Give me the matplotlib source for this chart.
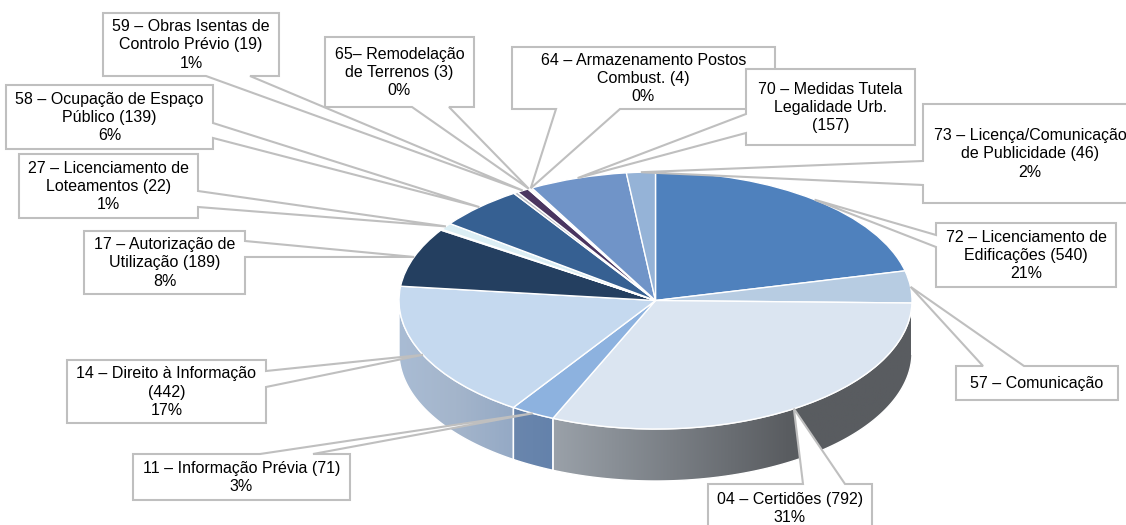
import numpy as np
import matplotlib
matplotlib.use('Agg')
import matplotlib.pyplot as plt
from matplotlib.colors import LinearSegmentedColormap
from matplotlib.patches import Polygon

# clockwise from 12 o'clock, two thin slices have no callout in the original
codes = ['72', '57', '04', '11', '14', '17', 'x1', '27', '58', 'x2', '59', '65', '64', '70', '73']
values = [540, 102, 792, 71, 442, 189, 3, 22, 139, 7, 19, 3, 4, 157, 46]
labels = ['72 – Licenciamento de\nEdificações (540)\n21%',
          '57 – Comunicação',
          '04 – Certidões (792)\n31%',
          '11 – Informação Prévia (71)\n3%',
          '14 – Direito à Informação\n(442)\n17%',
          '17 – Autorização de\nUtilização (189)\n8%',
          None,
          '27 – Licenciamento de\nLoteamentos (22)\n1%',
          '58 – Ocupação de Espaço\nPúblico (139)\n6%',
          None,
          '59 – Obras Isentas de\nControlo Prévio (19)\n1%',
          '65– Remodelação\nde Terrenos (3)\n0%',
          '64 – Armazenamento Postos\nCombust. (4)\n0%',
          '70 – Medidas Tutela\nLegalidade Urb.\n(157)',
          '73 – Licença/Comunicação\nde Publicidade (46)\n2%']
colors = ['#4f81bd', '#b7cce2', '#dbe5f1', '#8db2df', '#c5d9ef', '#243f60', '#4f6f9f', '#dbeef4',
          '#366092', '#b9bcc4', '#4a3560', '#f4ece6', '#f6f0ea', '#7094c8', '#95b3d7']

# pie ellipse in pixels
cx, cy, rx, ry = 655.5, 300.5, 256.5, 128.5
depth = 52

# side wall gradients, left to right on screen
walls = {'57': [(0, '#595c60'), (1, '#595c60')],
         '04': [(0, '#9aa1a9'), (0.66, '#595c60'), (1, '#595c60')],
         '11': [(0, '#6a86ad'), (1, '#6482ab')],
         '14': [(0, '#a9bcd4'), (0.5, '#a4b5cb'), (1, '#94a9c5')]}

# callouts: box (left, top, right, bottom), edge of the notch, notch ends
callouts = {'72': ((936, 223, 1116, 287), 'left', 235, 247),
            '57': ((956, 366, 1118, 400), 'top', 983, 1024),
            '04': ((708, 484, 872, 532), 'top', 803, 845),
            '11': ((133, 454, 350, 500), 'top', 260, 313),
            '14': ((67, 360, 266, 423), 'right', 371, 387),
            '17': ((84, 231, 245, 294), 'right', 241, 257),
            '27': ((19, 154, 198, 218), 'right', 191, 207),
            '58': ((6, 85, 213, 149), 'right', 123, 138),
            '59': ((103, 13, 279, 76), 'bottom', 206, 250),
            '65': ((325, 37, 474, 107), 'bottom', 412, 449),
            '64': ((512, 47, 775, 109), 'bottom', 556, 620),
            '70': ((746, 69, 915, 145), 'left', 114, 133),
            '73': ((923, 104, 1137, 203), 'left', 161, 185)}


def px(x, y):
    return (x - cx) / rx, (cy - y) / ry


fig = plt.figure(figsize=(11.26, 5.25), dpi=100)
ax = fig.add_axes([0, 0, 1, 1])
wedges, _ = ax.pie(values, colors=colors, startangle=90, counterclock=False, radius=1,
                   wedgeprops={'edgecolor': 'white', 'linewidth': 1.0})
for w in wedges:
    w.set_zorder(2)

d = depth / ry
for code, w in zip(codes, wedges):
    if code not in walls:
        continue
    t = np.radians(np.linspace(w.theta1, w.theta2, 200))
    t = t[np.sin(t) <= 0.0]
    xs, ys = np.cos(t), np.sin(t)
    pts = np.column_stack([np.r_[xs, xs[::-1]], np.r_[ys, ys[::-1] - d]])
    outline = Polygon(pts, closed=True, facecolor='none', edgecolor='white', linewidth=1.0, zorder=1.5)
    ax.add_patch(outline)
    cmap = LinearSegmentedColormap.from_list('wall', walls[code])
    im = ax.imshow(np.linspace(0, 1, 256)[None, :], cmap=cmap, aspect='auto', zorder=1, vmin=0, vmax=1,
                   extent=(pts[:, 0].min(), pts[:, 0].max(), pts[:, 1].min(), pts[:, 1].max()))
    im.set_clip_path(outline)

for code, w, label in zip(codes, wedges, labels):
    if label is None:
        continue
    (l, t, r, b), side, n1, n2 = callouts[code]
    mid = np.radians((w.theta1 + w.theta2) / 2)
    tip = (np.cos(mid), np.sin(mid))
    if side == 'top':
        pts = [px(l, t), px(n1, t), tip, px(n2, t), px(r, t), px(r, b), px(l, b)]
    elif side == 'right':
        pts = [px(l, t), px(r, t), px(r, n1), tip, px(r, n2), px(r, b), px(l, b)]
    elif side == 'bottom':
        pts = [px(l, t), px(r, t), px(r, b), px(n2, b), tip, px(n1, b), px(l, b)]
    else:
        pts = [px(l, t), px(r, t), px(r, b), px(l, b), px(l, n2), tip, px(l, n1)]
    ax.add_patch(Polygon(pts, closed=True, facecolor='white', edgecolor='#bfbfbf', linewidth=1.5,
                         joinstyle='miter', zorder=3))
    tx, ty = px((l + r) / 2, (t + b) / 2 + 0.5)
    ax.text(tx, ty, label, ha='center', va='center', ma='center', fontsize=11.5, color='black',
            family='Liberation Sans', linespacing=1.27, zorder=4)

ax.set_aspect('auto')
ax.set_xlim(px(0, 0)[0], px(1126, 0)[0])
ax.set_ylim(px(0, 525)[1], px(0, 0)[1])
ax.axis('off')

fig.savefig('out.png', dpi=100)
